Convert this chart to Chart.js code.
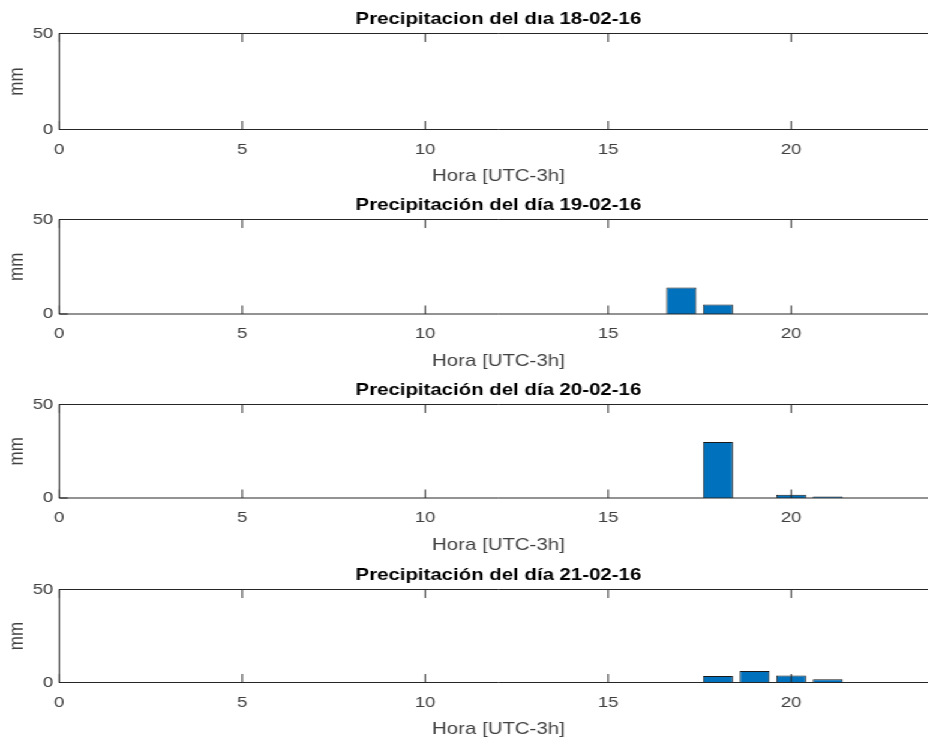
<!DOCTYPE html>
<html>
<head>
<meta charset="utf-8">
<script src="https://cdn.jsdelivr.net/npm/chart.js@4.4.1/dist/chart.umd.min.js"></script>
<style>
  html, body { margin: 0; padding: 0; background: #fff; overflow: hidden; width: 928px; height: 740px; }
  #stage { position: absolute; left: 0; top: 0; width: 790px; height: 740px; transform: scaleX(1.2); transform-origin: 0 0; }
  #stage canvas { position: absolute; left: 0; }
</style>
</head>
<body>
<div id="stage"></div>
<script>
// Hourly rainfall (mm) for four consecutive days, one bar per hour.
const hours = [0, 1, 2, 3, 4, 5, 6, 7, 8, 9, 10, 11, 12, 13, 14, 15, 16, 17, 18, 19, 20, 21, 22, 23];
const hourTicks = [0, 5, 10, 15, 20];
const mmTicks = [0, 50];

const rain18 = [0, 0, 0, 0, 0, 0, 0, 0, 0, 0, 0, 0, 0, 0, 0, 0, 0, 0, 0, 0, 0, 0, 0, 0];
const rain19 = [0, 0, 0, 0, 0, 0, 0, 0, 0, 0, 0, 0, 0, 0, 0, 0, 0, 14, 5, 0, 0, 0, 0, 0];
const rain20 = [0, 0, 0, 0, 0, 0, 0, 0, 0, 0, 0, 0, 0, 0, 0, 0, 0, 0, 30, 0, 1.8, 0.8, 0, 0];
const rain21 = [0, 0, 0, 0, 0, 0, 0, 0, 0, 0, 0, 0, 0, 0, 0, 0, 0, 0, 3.5, 6.2, 3.7, 1.8, 0, 0];

const dayTitles = [
  'Precipitacion del d\u0131a 18-02-16',
  'Precipitación del día 19-02-16',
  'Precipitación del día 20-02-16',
  'Precipitación del día 21-02-16'
];
const dayRain = [rain18, rain19, rain20, rain21];
const xTitle = 'Hora [UTC-3h]';
const yTitle = 'mm';

// Figure geometry (canvas units before the horizontal stretch of the stage)
const STRETCH = 1.2;
const CANVAS_W = 790, CANVAS_H = 200;
const PLOT_LEFT = 49.4, PLOT_RIGHT = 781.3;
const TITLE_H = 33.5;
const panelTop = [33.5, 219, 404.5, 589.5];
const panelBottom = [129.5, 313.5, 498, 682.5];
const X_TITLE_GAP = 47;      // axis line to middle of x label
const TICK_LEN = 8.5;

const INK = '#262626';
const TEXT = '#404040';
Chart.defaults.font.family = "'Liberation Sans', Arial, Helvetica, sans-serif";

// Box around the axes with inward tick marks on every side
const axesFrame = {
  id: 'axesFrame',
  afterDatasetsDraw(chart) {
    const { ctx, chartArea: a, scales: { x, y } } = chart;
    ctx.save();
    ctx.strokeStyle = INK;
    ctx.lineWidth = 1;
    ctx.beginPath();
    ctx.rect(a.left, a.top, a.right - a.left, a.bottom - a.top);
    x.ticks.forEach(t => {
      const px = x.getPixelForValue(t.value);
      ctx.moveTo(px, a.bottom); ctx.lineTo(px, a.bottom - TICK_LEN);
      ctx.moveTo(px, a.top); ctx.lineTo(px, a.top + TICK_LEN);
    });
    y.ticks.forEach(t => {
      const py = y.getPixelForValue(t.value);
      ctx.moveTo(a.left, py); ctx.lineTo(a.left + TICK_LEN / STRETCH, py);
      ctx.moveTo(a.right, py); ctx.lineTo(a.right - TICK_LEN / STRETCH, py);
    });
    ctx.stroke();
    ctx.restore();
  }
};

const stage = document.getElementById('stage');

dayRain.forEach((values, k) => {
  const plotH = panelBottom[k] - panelTop[k];
  const xAxisH = CANVAS_H - TITLE_H - plotH;
  const xTitleLH = 17 * 1.2;
  const xTitlePad = xAxisH - X_TITLE_GAP - xTitleLH / 2;

  const canvas = document.createElement('canvas');
  canvas.width = CANVAS_W;
  canvas.height = CANVAS_H;
  canvas.style.top = (panelTop[k] - TITLE_H) + 'px';
  stage.appendChild(canvas);

  new Chart(canvas, {
    type: 'bar',
    data: {
      datasets: [{
        data: hours.map((h, i) => ({ x: h, y: values[i] })),
        backgroundColor: '#0072BD',
        borderColor: '#1a1a1a',
        borderWidth: 1,
        borderSkipped: 'start',
        barPercentage: 0.82,
        categoryPercentage: 1
      }]
    },
    options: {
      responsive: false,
      animation: false,
      events: [],
      layout: { padding: { left: 0, right: CANVAS_W - PLOT_RIGHT, top: 0, bottom: 0 } },
      plugins: {
        legend: { display: false },
        tooltip: { enabled: false },
        title: {
          display: true,
          text: dayTitles[k],
          fullSize: false,
          color: '#000',
          font: { size: 17, weight: 'bold' },
          padding: { top: 8.8, bottom: TITLE_H - 8.8 - 17 * 1.2 }
        }
      },
      scales: {
        x: {
          type: 'linear',
          offset: false,
          min: 0,
          max: 24,
          grid: { display: false, drawTicks: false, offset: false },
          border: { display: false },
          afterBuildTicks: s => { s.ticks = hourTicks.map(v => ({ value: v })); },
          afterFit: s => { s.height = xAxisH; },
          ticks: { color: TEXT, font: { size: 15.5 }, padding: 10.7, maxRotation: 0, autoSkip: false },
          title: { display: true, text: xTitle, color: TEXT, font: { size: 17 }, padding: { top: 0, bottom: xTitlePad } }
        },
        y: {
          min: 0,
          max: 50,
          grid: { display: false, drawTicks: false },
          border: { display: false },
          afterBuildTicks: s => { s.ticks = mmTicks.map(v => ({ value: v })); },
          afterFit: s => { s.width = PLOT_LEFT; },
          ticks: { color: TEXT, font: { size: 15.5 }, padding: 5 },
          title: { display: true, text: yTitle, color: TEXT, font: { size: 17 }, padding: { top: 4.4, bottom: 0 } }
        }
      }
    },
    plugins: [axesFrame]
  });
});
</script>
</body>
</html>
